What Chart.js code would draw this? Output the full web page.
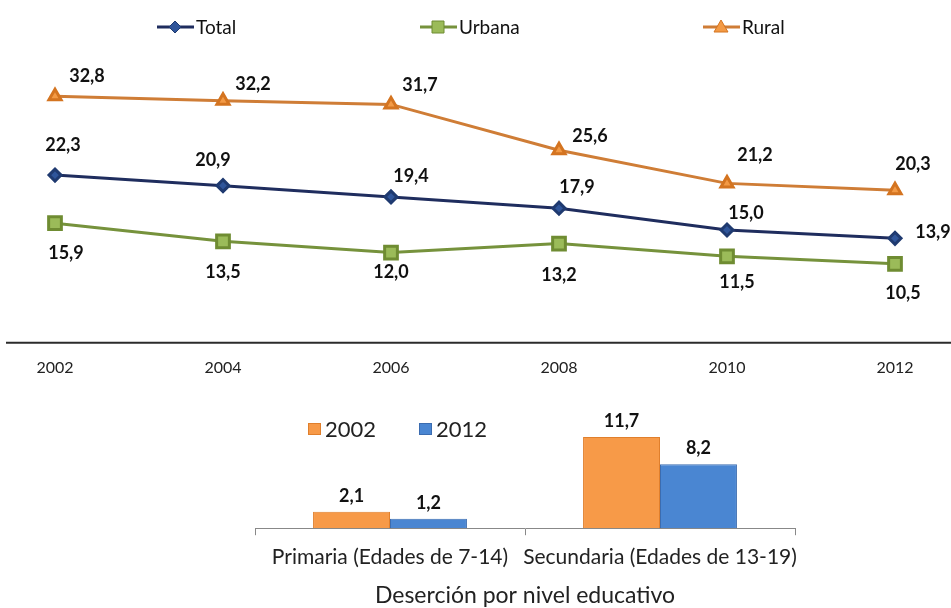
<!DOCTYPE html>
<html>
<head>
<meta charset="utf-8">
<script src="https://cdn.jsdelivr.net/npm/chart.js"></script>
<style>
    html, body { margin: 0; padding: 0; background: #fff; overflow: hidden; }
    #wrap { position: relative; width: 951px; height: 608px; overflow: hidden; }
    #lineBox { position: absolute; left: 0; top: 0; width: 951px; height: 392px; }
    #barBox { position: absolute; left: 240px; top: 390px; width: 580px; height: 221px; }
</style>
</head>
<body>
<div id="wrap">
    <div id="lineBox"><canvas id="lineChart"></canvas></div>
    <div id="barBox"><canvas id="barChart"></canvas></div>
</div>
<script>
var years = ['2002', '2004', '2006', '2008', '2010', '2012'];
var total = [22.3, 20.9, 19.4, 17.9, 15.0, 13.9];
var urbana = [15.9, 13.5, 12.0, 13.2, 11.5, 10.5];
var rural = [32.8, 32.2, 31.7, 25.6, 21.2, 20.3];

var niveles = ['Primaria (Edades de 7-14)', 'Secundaria (Edades de 13-19)'];
var des2002 = [2.1, 11.7];
var des2012 = [1.2, 8.2];

function fmt(v) { return v.toFixed(1).replace('.', ','); }

// small marker shapes for the custom legend
function marker(ctx, shape, x, y, fill, stroke) {
    ctx.beginPath();
    if (shape === 'rectRot') {
        ctx.moveTo(x, y - 6); ctx.lineTo(x + 6, y); ctx.lineTo(x, y + 6); ctx.lineTo(x - 6, y);
    } else if (shape === 'rect') {
        ctx.rect(x - 6, y - 6, 12, 12);
    } else {
        ctx.moveTo(x, y - 7); ctx.lineTo(x + 7, y + 5); ctx.lineTo(x - 7, y + 5);
    }
    ctx.closePath();
    ctx.fillStyle = fill;
    ctx.fill();
    ctx.strokeStyle = stroke;
    ctx.lineWidth = 1;
    ctx.stroke();
}

var lineExtras = {
    id: 'lineExtras',
    afterDraw: function (chart) {
        var ctx = chart.ctx;
        var y0 = chart.scales.y.getPixelForValue(0);
        ctx.save();

        // long base line under the series
        ctx.strokeStyle = '#2b2b2b';
        ctx.lineWidth = 2;
        ctx.beginPath();
        ctx.moveTo(6, y0);
        ctx.lineTo(chart.width, y0);
        ctx.stroke();

        // value labels
        ctx.font = 'bold 18px Lato';
        ctx.fillStyle = '#111';
        ctx.textAlign = 'center';
        ctx.textBaseline = 'middle';
        chart.data.datasets.forEach(function (ds, i) {
            chart.getDatasetMeta(i).data.forEach(function (pt, j) {
                var off = ds.labelShift[j];
                ctx.fillText(fmt(ds.data[j]), pt.x + off[0], pt.y + off[1]);
            });
        });

        // legend: line + marker + text
        var starts = [157, 420, 703];
        var order = [1, 2, 0];
        ctx.font = '19px Lato';
        ctx.textAlign = 'left';
        order.forEach(function (dsIndex, k) {
            var ds = chart.data.datasets[dsIndex];
            var x = starts[k], y = 27;
            ctx.strokeStyle = ds.borderColor;
            ctx.lineWidth = 3;
            ctx.beginPath();
            ctx.moveTo(x, y);
            ctx.lineTo(x + 37, y);
            ctx.stroke();
            marker(ctx, ds.pointStyle, x + 18, y, ds.pointBackgroundColor, ds.pointBorderColor);
            ctx.fillStyle = '#111';
            ctx.fillText(ds.label, x + 39, y + 1);
        });
        ctx.restore();
    }
};

new Chart(document.getElementById('lineChart').getContext('2d'), {
    type: 'line',
    data: {
        labels: years,
        datasets: [
            {
                label: 'Rural',
                data: rural,
                borderColor: '#cf7d36',
                borderWidth: 3,
                pointStyle: 'triangle',
                pointRadius: 7,
                pointBackgroundColor: '#f39a45',
                pointBorderColor: '#d47420',
                labelShift: [[32, -20], [30, -16], [29, -19], [31, -14], [28, -28], [18, -26]]
            },
            {
                label: 'Total',
                data: total,
                borderColor: '#1f2d5e',
                borderWidth: 3,
                pointStyle: 'rectRot',
                pointRadius: 6,
                pointBackgroundColor: '#2f559a',
                pointBorderColor: '#1f3a70',
                labelShift: [[8, -30], [-10, -25], [20, -21], [18, -21], [19, -17], [38, -6]]
            },
            {
                label: 'Urbana',
                data: urbana,
                borderColor: '#76923c',
                borderWidth: 3,
                pointStyle: 'rect',
                pointRadius: 9,
                pointBackgroundColor: '#9bbb59',
                pointBorderColor: '#6f8c32',
                labelShift: [[11, 30], [0, 31], [0, 20], [0, 32], [10, 26], [8, 29]]
            }
        ]
    },
    options: {
        responsive: true,
        maintainAspectRatio: false,
        animation: false,
        layout: { padding: { left: 55, right: 56, top: 42, bottom: 0 } },
        plugins: { legend: { display: false }, tooltip: { enabled: false } },
        scales: {
            x: {
                offset: false,
                grid: { display: false, drawTicks: false },
                border: { display: false },
                ticks: { padding: 15, color: '#222', font: { family: 'Lato', size: 16 } }
            },
            y: { display: false, min: 0, max: 40 }
        }
    },
    plugins: [lineExtras]
});

var barExtras = {
    id: 'barExtras',
    afterDraw: function (chart) {
        var ctx = chart.ctx;
        ctx.save();
        ctx.font = 'bold 18px Lato';
        ctx.fillStyle = '#111';
        ctx.textAlign = 'center';
        ctx.textBaseline = 'middle';
        chart.data.datasets.forEach(function (ds, i) {
            chart.getDatasetMeta(i).data.forEach(function (bar, j) {
                ctx.fillText(fmt(ds.data[j]), bar.x, bar.y - 16);
            });
        });

        // legend
        var xs = [68, 179];
        ctx.font = '22px Lato';
        ctx.textAlign = 'left';
        chart.data.datasets.forEach(function (ds, i) {
            ctx.fillStyle = ds.backgroundColor;
            ctx.fillRect(xs[i], 33, 13, 12);
            ctx.strokeStyle = ds.borderColor;
            ctx.lineWidth = 1;
            ctx.strokeRect(xs[i] + 0.5, 33.5, 12, 11);
            ctx.fillStyle = '#222';
            ctx.fillText(ds.label, xs[i] + 17, 40);
        });
        ctx.restore();
    }
};

new Chart(document.getElementById('barChart').getContext('2d'), {
    type: 'bar',
    data: {
        labels: niveles,
        datasets: [
            {
                label: '2002',
                data: des2002,
                backgroundColor: '#f79a48',
                borderColor: '#e07f2c',
                borderWidth: 1,
                categoryPercentage: 0.57,
                barPercentage: 1.0
            },
            {
                label: '2012',
                data: des2012,
                backgroundColor: '#4a86d2',
                borderColor: '#3b6cb0',
                borderWidth: 1,
                categoryPercentage: 0.57,
                barPercentage: 1.0
            }
        ]
    },
    options: {
        responsive: true,
        maintainAspectRatio: false,
        animation: false,
        layout: { padding: { left: 15, right: 25, top: 29, bottom: 2 } },
        plugins: { legend: { display: false }, tooltip: { enabled: false } },
        scales: {
            x: {
                grid: { display: true, drawOnChartArea: false, tickLength: 7, color: '#888', offset: true },
                border: { display: true, color: '#888' },
                ticks: { padding: 9, color: '#222', autoSkip: false, maxRotation: 0, font: { family: 'Lato', size: 21 } },
                title: {
                    display: true,
                    text: 'Deserción por nivel educativo',
                    color: '#222',
                    font: { family: 'Lato', size: 23 },
                    padding: { top: 3, bottom: 0 }
                }
            },
            y: { display: false, min: 0, max: 14 }
        }
    },
    plugins: [barExtras]
});
</script>
</body>
</html>
